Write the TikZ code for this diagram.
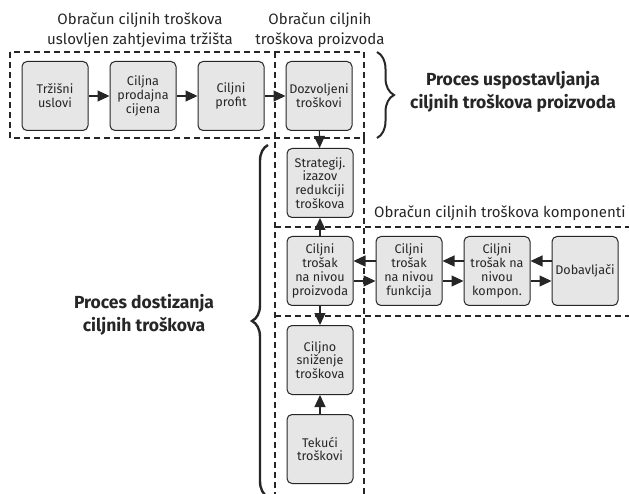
\documentclass[tikz,border=0pt]{standalone}
\usepackage{fontspec}
\setmainfont{Fira Sans}
\usetikzlibrary{arrows.meta,decorations.pathreplacing}
\definecolor{ink}{HTML}{262626}
\definecolor{boxfill}{HTML}{E6E6E6}
\begin{document}
\begin{tikzpicture}[x=1pt,y=-1pt,
  stepbox/.style={draw=ink,line width=1pt,fill=boxfill,rounded corners=5pt,
    minimum width=66pt,minimum height=69pt,inner sep=1pt,align=center,
    text=ink,font=\fontsize{12.6}{13.8}\selectfont},
  flow/.style={draw=ink,line width=1.1pt,-{Triangle[length=12pt,width=11pt]}},
  zone/.style={draw=ink,line width=1.1pt,dash pattern=on 6pt off 4pt},
  head/.style={text=ink,align=center,font=\fontsize{15}{20}\selectfont},
  phase/.style={text=ink,align=center,font=\fontsize{17.5}{23}\selectfont\bfseries},
  curly/.style={draw=ink,decorate,decoration={brace,amplitude=#1}}]
\useasboundingbox (0,0) rectangle (629,494);

% dashed zones
\draw[zone] (10,52) rectangle (364,138);
\draw[zone] (275,52) -- (275,494);
\draw[zone] (364,138) -- (364,494);
\draw[zone] (275,227) -- (629,227);
\draw[zone] (275,316) -- (629,316);

% zone captions
\node[head] (capmarket) at (140,30) {Obračun ciljnih troškova\\uslovljen zahtjevima tržišta};
\node[head] (capproduct) at (320,30) {Obračun ciljnih\\troškova proizvoda};
\node[head,anchor=east] (capcomp) at (629,213) {Obračun ciljnih troškova komponenti};

% first row
\node[stepbox] (market) at (55,96) {Tržišni\\uslovi};
\node[stepbox] (price) at (143,96) {Ciljna\\prodajna\\cijena};
\node[stepbox] (profit) at (231,96) {Ciljni\\profit};
\node[stepbox] (allowed) at (319,96) {Dozvoljeni\\troškovi};

% product column
\node[stepbox] (strategy) at (320,183) {Strategij.\\izazov\\redukciji\\troškova};
\node[stepbox] (prodcost) at (320,271) {Ciljni\\trošak\\na nivou\\proizvoda};
\node[stepbox] (reduction) at (320,360) {Ciljno\\sniženje\\troškova};
\node[stepbox] (current) at (320,449) {Tekući\\troškovi};

% component row
\node[stepbox] (funccost) at (409,271) {Ciljni\\trošak\\na nivou\\funkcija};
\node[stepbox] (compcost) at (497,271) {Ciljni\\trošak na\\nivou\\kompon.};
\node[stepbox] (suppliers) at (585,271) {Dobavljači};

% connectors
\draw[flow] (market) -- (price);
\draw[flow] (price) -- (profit);
\draw[flow] (profit) -- (allowed);
\draw[flow] (allowed) -- (strategy);
\draw[flow] (prodcost) -- (strategy);
\draw[flow] (prodcost) -- (reduction);
\draw[flow] (current) -- (reduction);
\draw[flow] ([yshift=-10pt]prodcost.east) -- ([yshift=-10pt]funccost.west);
\draw[flow] ([yshift=10pt]funccost.west) -- ([yshift=10pt]prodcost.east);
\draw[flow] ([yshift=-10pt]funccost.east) -- ([yshift=-10pt]compcost.west);
\draw[flow] ([yshift=10pt]compcost.west) -- ([yshift=10pt]funccost.east);
\draw[flow] ([yshift=-10pt]compcost.east) -- ([yshift=-10pt]suppliers.west);
\draw[flow] ([yshift=10pt]suppliers.west) -- ([yshift=10pt]compcost.east);

% phase braces and titles
\coordinate (bt1) at (377,52);
\coordinate (bt2) at (377,138);
\draw[curly=17pt,line width=2pt] (bt1) -- (bt2);
\node[phase] (setphase) at (513,92) {Proces uspostavljanja\\ciljnih troškova proizvoda};
\coordinate (bl1) at (268,497);
\coordinate (bl2) at (268,145);
\draw[curly=16pt,line width=2.4pt] (bl1) -- (bl2);
\node[phase] (reachphase) at (144,315) {Proces dostizanja\\ciljnih troškova};
\end{tikzpicture}
\end{document}
